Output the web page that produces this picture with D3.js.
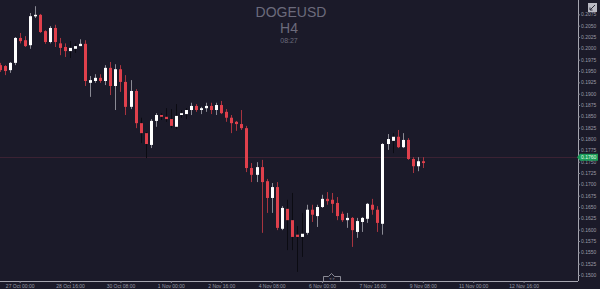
<!DOCTYPE html>
<html>
<head>
<meta charset="utf-8">
<script src="https://cdn.jsdelivr.net/npm/d3@7"></script>
<style>
  html, body { margin: 0; padding: 0; background: #1b1a29; }
  svg { display: block; }
</style>
</head>
<body>
<div id="chart"></div>
<script>
// DOGEUSD H4 candles, oldest first (4h apart)
var opens  = [0.1963,0.1961,0.1952,0.1968,0.2023,0.2018,0.2007,0.2071,0.2074,0.2038,
              0.2014,0.2045,0.2011,0.2003,0.1994,0.1999,0.2005,0.2010,0.1924,0.1928,
              0.1935,0.1928,0.1957,0.1917,0.1954,0.1926,0.1871,0.1906,0.1835,0.1813,
              0.1787,0.1840,0.1853,0.1849,0.1844,0.1827,0.1853,0.1855,0.1864,0.1873,
              0.1864,0.1868,0.1873,0.1864,0.1875,0.1860,0.1847,0.1838,0.1833,0.1824,
              0.1736,0.1721,0.1738,0.1707,0.1670,0.1694,0.1602,0.1646,0.1621,0.1589,
              0.1584,0.1593,0.1644,0.1630,0.1650,0.1668,0.1666,0.1659,0.1635,0.1621,
              0.1626,0.1595,0.1617,0.1624,0.1655,0.1644,0.1613,0.1789,0.1796,0.1805,
              0.1782,0.1798,0.1756,0.1740,0.1751];
var highs  = [0.1968,0.1963,0.1970,0.2025,0.2034,0.2027,0.2078,0.2093,0.2076,0.2040,
              0.2049,0.2052,0.2023,0.2011,0.2016,0.2011,0.2020,0.2018,0.1939,0.1943,
              0.1943,0.1963,0.1970,0.1965,0.1963,0.1941,0.1930,0.1910,0.1847,0.1815,
              0.1844,0.1857,0.1857,0.1868,0.1866,0.1877,0.1864,0.1868,0.1880,0.1877,
              0.1871,0.1880,0.1880,0.1880,0.1884,0.1866,0.1853,0.1840,0.1864,0.1829,
              0.1747,0.1749,0.1754,0.1712,0.1703,0.1705,0.1652,0.1666,0.1681,0.1608,
              0.1637,0.1655,0.1655,0.1655,0.1677,0.1683,0.1681,0.1672,0.1640,0.1637,
              0.1628,0.1626,0.1628,0.1659,0.1668,0.1652,0.1791,0.1811,0.1813,0.1820,
              0.1813,0.1802,0.1760,0.1760,0.1760];
var lows   = [0.1948,0.1941,0.1946,0.1963,0.2011,0.2003,0.1999,0.2067,0.2034,0.2010,
              0.2011,0.2003,0.1985,0.1981,0.1979,0.1990,0.2005,0.1917,0.1893,0.1924,
              0.1924,0.1919,0.1897,0.1864,0.1904,0.1853,0.1866,0.1824,0.1791,0.1758,
              0.1780,0.1827,0.1842,0.1838,0.1824,0.1822,0.1847,0.1844,0.1853,0.1860,
              0.1855,0.1860,0.1855,0.1853,0.1855,0.1838,0.1813,0.1818,0.1820,0.1727,
              0.1705,0.1705,0.1593,0.1637,0.1637,0.1599,0.1599,0.1555,0.1555,0.1507,
              0.1540,0.1589,0.1617,0.1606,0.1648,0.1655,0.1637,0.1621,0.1617,0.1604,
              0.1562,0.1582,0.1595,0.1615,0.1633,0.1595,0.1589,0.1776,0.1769,0.1780,
              0.1780,0.1754,0.1725,0.1729,0.1736];
var closes = [0.1952,0.1950,0.1968,0.2023,0.2016,0.2005,0.2071,0.2074,0.2036,0.2014,
              0.2045,0.2014,0.2001,0.1994,0.2001,0.2005,0.2010,0.1928,0.1930,0.1935,
              0.1928,0.1957,0.1917,0.1954,0.1926,0.1871,0.1906,0.1835,0.1813,0.1789,
              0.1840,0.1853,0.1849,0.1844,0.1829,0.1851,0.1857,0.1864,0.1873,0.1864,
              0.1868,0.1873,0.1864,0.1875,0.1857,0.1847,0.1835,0.1833,0.1824,0.1736,
              0.1721,0.1738,0.1705,0.1670,0.1694,0.1604,0.1648,0.1621,0.1584,0.1584,
              0.1591,0.1644,0.1633,0.1650,0.1668,0.1663,0.1657,0.1630,0.1621,0.1626,
              0.1599,0.1619,0.1626,0.1657,0.1644,0.1615,0.1789,0.1800,0.1805,0.1782,
              0.1798,0.1756,0.1740,0.1751,0.1747];
// candles whose wicks show up in the dark shadow colour
var darkWicks = [14, 15, 28, 29, 32, 33, 34, 35, 36, 37, 57, 58, 59, 60, 78];

var priceTicks = d3.range(0.1500, 0.20751, 0.0025);
var timeLabels = ['27 Oct 00:00', '28 Oct 16:00', '30 Oct 08:00', '1 Nov 00:00', '2 Nov 16:00',
                  '4 Nov 08:00', '6 Nov 00:00', '7 Nov 16:00', '9 Nov 08:00', '11 Nov 00:00', '12 Nov 16:00'];
var timeLabelBars = [4, 14, 24, 34, 44, 54, 64, 74, 84, 94, 104];
var lastPrice = 0.1760;

var W = 600, H = 289;
var plotRight = 578, plotBottom = 281;

var svg = d3.select('#chart').append('svg').attr('width', W).attr('height', H);
svg.append('rect').attr('width', W).attr('height', H).attr('fill', '#1b1a29');

var x = d3.scaleLinear().domain([0, 114]).range([-0.5, 574]);
var y = d3.scaleLinear().domain([0.14868, 0.21067]).range([plotBottom, 0]);

// title block
var title = svg.append('g').attr('fill', '#6c6b7c').attr('text-anchor', 'middle')
  .style('font-family', 'Liberation Sans, Arial, sans-serif');
title.append('text').attr('x', 291).attr('y', 17).style('font-size', '14px').text('DOGEUSD');
title.append('text').attr('x', 289).attr('y', 33).style('font-size', '14px').text('H4');
title.append('text').attr('x', 289).attr('y', 43).style('font-size', '7px').text('08:27');

// last price line
svg.append('line').attr('x1', 0).attr('x2', plotRight)
  .attr('y1', Math.round(y(lastPrice)) + 0.5).attr('y2', Math.round(y(lastPrice)) + 0.5)
  .attr('stroke', '#3b2233').attr('stroke-width', 1);

var candles = d3.range(opens.length).map(function(i) {
  return { i: i, o: opens[i], h: highs[i], l: lows[i], c: closes[i] };
});

var g = svg.append('g');
g.selectAll('line.wick').data(candles).enter().append('line')
  .attr('class', 'wick')
  .attr('x1', function(d) { return Math.round(x(d.i)) + 0.5; })
  .attr('x2', function(d) { return Math.round(x(d.i)) + 0.5; })
  .attr('y1', function(d) { return y(d.h); })
  .attr('y2', function(d) { return y(d.l); })
  .attr('stroke', function(d) {
    if (darkWicks.indexOf(d.i) >= 0) return '#0b0b12';
    return d.c >= d.o ? '#8a8a94' : '#a8343f';
  })
  .attr('stroke-width', 1);

g.selectAll('rect.body').data(candles).enter().append('rect')
  .attr('class', 'body')
  .attr('x', function(d) { return Math.round(x(d.i)) - 1; })
  .attr('width', 3)
  .attr('y', function(d) { return y(Math.max(d.o, d.c)); })
  .attr('height', function(d) { return Math.max(1.5, Math.abs(y(d.o) - y(d.c))); })
  .attr('fill', function(d) { return d.c >= d.o ? '#ffffff' : '#e0404c'; });

// axes
var yAxis = d3.axisRight(y).tickValues(priceTicks).tickSize(2).tickFormat(d3.format('.4f'));
var ay = svg.append('g').attr('transform', 'translate(' + plotRight + ',0)').call(yAxis);
var xAxis = d3.axisBottom(x).tickValues(timeLabelBars).tickSize(2)
  .tickFormat(function(d, k) { return timeLabels[k]; });
var ax = svg.append('g').attr('transform', 'translate(0,' + plotBottom + ')').call(xAxis);

[ay, ax].forEach(function(a) {
  a.select('.domain').attr('stroke', '#a6a6b0');
  a.selectAll('.tick line').attr('stroke', '#8a8a94');
  a.selectAll('.tick text').attr('fill', '#9a9aa6')
    .style('font-family', 'Liberation Sans, Arial, sans-serif').style('font-size', '5px');
});
ay.selectAll('.tick text').attr('x', 3);
ax.selectAll('.tick text').attr('y', 3.5).attr('dy', '0.71em');
ax.select('.domain').attr('d', 'M0,0.5H' + plotRight);
ay.select('.domain').attr('d', 'M0.5,0V' + plotBottom);

// last price tag
var tag = svg.append('g').attr('transform', 'translate(' + (plotRight - 1) + ',' + y(lastPrice) + ')');
tag.append('path').attr('d', 'M0,0L3,-3.5H21V3.5H3Z').attr('fill', '#1a9c58');
tag.append('text').attr('x', 4).attr('y', 2).attr('fill', '#e8ffe8')
  .style('font-family', 'Liberation Sans, Arial, sans-serif').style('font-size', '5px')
  .text(d3.format('.4f')(lastPrice));

// scroll handle on the time axis and the corner button
var handle = svg.append('g').attr('transform', 'translate(323,275)');
handle.append('path').attr('d', 'M0.5,6V1.5H5.5L8.5,-1.5L11.5,1.5H17.5V6')
  .attr('fill', '#1b1a29').attr('stroke', '#a6a6b0').attr('stroke-width', 0.8);
handle.append('text').attr('x', 9).attr('y', 5).attr('text-anchor', 'middle').attr('fill', '#9a9aa6')
  .style('font-family', 'Liberation Sans, Arial, sans-serif').style('font-size', '3.5px').text('< >');

var btn = svg.append('g').attr('transform', 'translate(588,3)');
btn.append('rect').attr('width', 9).attr('height', 9).attr('fill', '#b9b9c2');
btn.append('path').attr('d', 'M2,7L7,2M2,7V4.5M2,7H4.5').attr('stroke', '#2a2a38').attr('stroke-width', 1)
  .attr('fill', 'none');
</script>
</body>
</html>
